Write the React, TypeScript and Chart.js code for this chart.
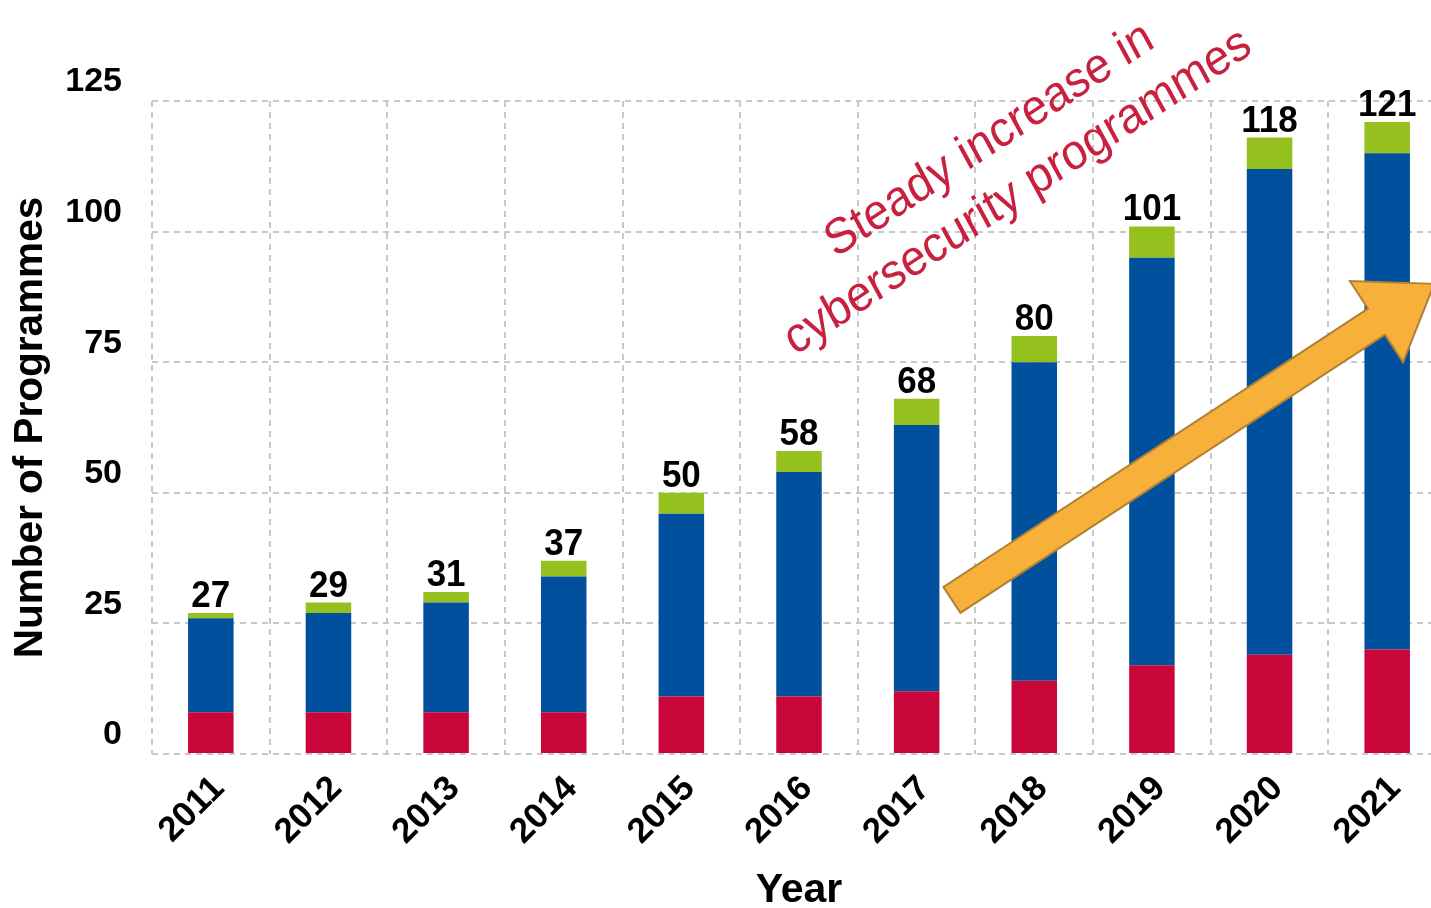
import React, { useEffect, useRef } from "react";
import { Chart, registerables } from "chart.js";

Chart.register(...registerables);

// ---- data ----
const years = ["2011", "2012", "2013", "2014", "2015", "2016", "2017", "2018", "2019", "2020", "2021"];
const redValues = [8, 8, 8, 8, 11, 11, 12, 14, 17, 19, 20];
const blueValues = [18, 19, 21, 26, 35, 43, 51, 61, 78, 93, 95];
const greenValues = [1, 2, 2, 3, 4, 4, 5, 5, 6, 6, 6];
const yTickMax = 125;
const yTickStep = 25;
const xTitle = "Year";
const yTitle = "Number of Programmes";
const annotationLines = ["Steady increase in", "cybersecurity programmes"];

// annotation anchors in data units (category index, value)
const ARROW_TAIL = { index: 6.3, value: 29.5 };
const ARROW_TIP = { index: 10.4, value: 90 };
const TEXT_ANCHOR = { index: 6.675, value: 115.2 };

const FONT = "'Liberation Sans', Arial, Helvetica, sans-serif";
const RED = "#c8063a";
const BLUE = "#00509d";
const GREEN = "#95c11f";
const GRID = "#c8c8c8";

const totalsPlugin = {
  id: "totals",
  afterDatasetsDraw(chart: any) {
    const { ctx } = chart;
    const x = chart.scales.x;
    const y = chart.scales.y;
    ctx.save();
    ctx.font = `bold 35px ${FONT}`;
    ctx.fillStyle = "#000";
    ctx.textAlign = "center";
    ctx.textBaseline = "alphabetic";
    years.forEach((_, i) => {
      const total = redValues[i] + blueValues[i] + greenValues[i];
      const px = x.getPixelForValue(i);
      const py = y.getPixelForValue(total) - 6;
      ctx.save();
      ctx.translate(px, py);
      ctx.scale(1, 1.08);
      ctx.fillText(String(total), 0, 0);
      ctx.restore();
    });
    ctx.restore();
  },
};

const annotationPlugin = {
  id: "annotation",
  afterDraw(chart: any) {
    const { ctx } = chart;
    const xs = chart.scales.x;
    const ys = chart.scales.y;
    // arrow
    const tx = xs.getPixelForValue(ARROW_TAIL.index);
    const ty = ys.getPixelForValue(ARROW_TAIL.value);
    const px = xs.getPixelForValue(ARROW_TIP.index);
    const py = ys.getPixelForValue(ARROW_TIP.value);
    const dx = px - tx;
    const dy = py - ty;
    const len = Math.hypot(dx, dy);
    const ux = dx / len;
    const uy = dy / len;
    const nx = -uy;
    const ny = ux;
    const sw = 15.5;
    const hw = 48.5;
    const hl = 69;
    const hx = px - ux * hl;
    const hy = py - uy * hl;
    ctx.save();
    ctx.beginPath();
    ctx.moveTo(tx + nx * sw, ty + ny * sw);
    ctx.lineTo(hx + nx * sw, hy + ny * sw);
    ctx.lineTo(hx + nx * hw, hy + ny * hw);
    ctx.lineTo(px, py);
    ctx.lineTo(hx - nx * hw, hy - ny * hw);
    ctx.lineTo(hx - nx * sw, hy - ny * sw);
    ctx.lineTo(tx - nx * sw, ty - ny * sw);
    ctx.closePath();
    ctx.fillStyle = "#f7b13b";
    ctx.fill();
    ctx.lineWidth = 2;
    ctx.strokeStyle = "#b08133";
    ctx.lineJoin = "miter";
    ctx.stroke();
    ctx.restore();

    // text
    const ax = xs.getPixelForValue(TEXT_ANCHOR.index);
    const ay = ys.getPixelForValue(TEXT_ANCHOR.value);
    ctx.save();
    ctx.translate(ax, ay);
    ctx.scale(1, 1.1);
    ctx.rotate((-31 * Math.PI) / 180);
    ctx.font = `45.5px ${FONT}`;
    ctx.fillStyle = "#c8203e";
    ctx.textAlign = "center";
    ctx.textBaseline = "alphabetic";
    annotationLines.forEach((line, i) => ctx.fillText(line, 0, i * 55));
    ctx.restore();
  },
};

export default function App() {
  const ref = useRef<HTMLCanvasElement>(null);
  useEffect(() => {
    if (!ref.current) return;
    const chart = new Chart(ref.current, {
      type: "bar",
      data: {
        labels: years,
        datasets: [
          { label: "red", data: redValues, backgroundColor: RED, barPercentage: 0.387, categoryPercentage: 1 },
          { label: "blue", data: blueValues, backgroundColor: BLUE, barPercentage: 0.387, categoryPercentage: 1 },
          { label: "green", data: greenValues, backgroundColor: GREEN, barPercentage: 0.387, categoryPercentage: 1 },
        ],
      },
      options: {
        responsive: false,
        animation: false,
        layout: { padding: { left: 0, right: 14, top: 101, bottom: 0 } },
        plugins: { legend: { display: false }, tooltip: { enabled: false } },
        scales: {
          x: {
            stacked: true,
            grid: { color: GRID, lineWidth: 2, drawTicks: false, offset: true },
            border: { display: false, dash: [6, 5] },
            ticks: {
              font: { family: FONT, size: 35, weight: "bold" },
              color: "#000",
              maxRotation: 45,
              minRotation: 45,
              autoSkip: false,
              padding: 14,
              labelOffset: 8,
            },
            title: {
              display: true,
              text: xTitle,
              color: "#000",
              font: { family: FONT, size: 41, weight: "bold", lineHeight: 0.84 },
              padding: { top: 0, bottom: 0 },
            },
            afterFit: (s: any) => {
              s.height = 154;
            },
          },
          y: {
            stacked: true,
            min: 0,
            max: yTickMax,
            grid: { color: GRID, lineWidth: 2, drawTicks: false },
            border: { display: false, dash: [6, 5] },
            ticks: {
              stepSize: yTickStep,
              font: { family: FONT, size: 34, weight: "bold" },
              color: "#000",
              padding: 30,
              labelOffset: -19,
            },
            title: {
              display: true,
              text: yTitle,
              color: "#000",
              font: { family: FONT, size: 40.5, weight: "bold", lineHeight: 1 },
              padding: { top: 10.5, bottom: 0 },
            },
            afterFit: (s: any) => {
              s.width = 152;
            },
          },
        },
      },
      plugins: [totalsPlugin, annotationPlugin],
    } as any);
    return () => chart.destroy();
  }, []);
  return (
    <div style={{ position: "fixed", left: 0, top: 0, width: 1431, height: 908, overflow: "hidden", background: "#fff" }}>
      <canvas ref={ref} width={1460} height={908} style={{ display: "block" }} />
    </div>
  );
}
